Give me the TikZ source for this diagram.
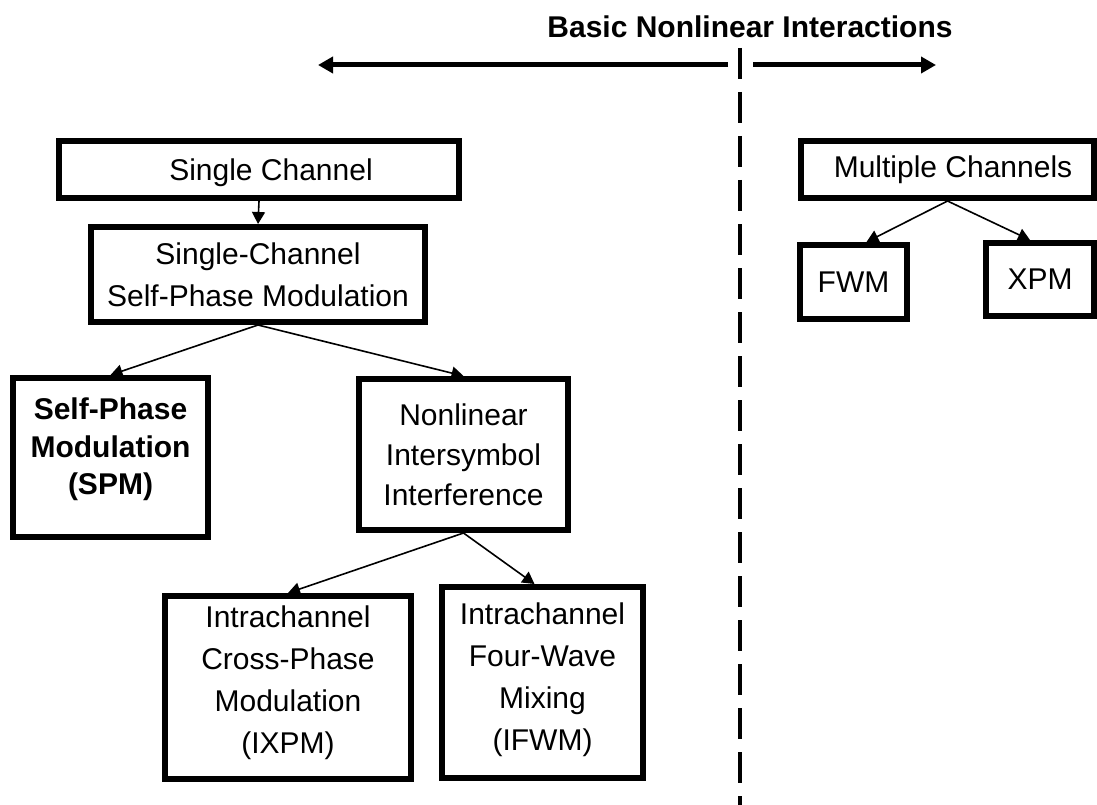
\documentclass[tikz,border=0pt]{standalone}
\usepackage{fontspec}
\setmainfont{Liberation Sans}
\usetikzlibrary{arrows.meta}

\begin{document}
\begin{tikzpicture}[x=1pt,y=-1pt,
	box/.style={draw,line width=6pt,outer sep=auto,inner sep=0pt,align=center,font=\fontsize{30}{42}\selectfont},
	link/.style={line width=1.6pt,-{Triangle[length=12pt,width=13pt]}},
	bigarrow/.style={line width=5pt,-{Triangle[length=15pt,width=16pt]}}]
			%%%%% START %%%%%
			
			\useasboundingbox (0,0) rectangle (1097,805);
			
			\node[font=\fontsize{30}{36}\selectfont\bfseries,anchor=base] (title) at (750,38) {Basic Nonlinear Interactions};
			
			\coordinate (lstart) at (728,65);
			\coordinate (lend) at (318,65);
			\coordinate (rstart) at (753,65);
			\coordinate (rend) at (936,65);
			\draw[bigarrow] (lstart) -- (lend);
			\draw[bigarrow] (rstart) -- (rend);
			
			\coordinate (splittop) at (740,48);
			\coordinate (splitbot) at (740,805);
			\draw[line width=4pt,dash pattern=on 31pt off 13pt] (splittop) -- (splitbot);
			
			\node[box,minimum width=400pt,minimum height=57pt,text depth=0pt] (single) at (259,169.5) {\hspace*{24pt}Single Channel};
			\node[box,minimum width=334pt,minimum height=95pt] (scspm) at (258,274.5) {Single-Channel\\Self-Phase Modulation};
			
			\node[box,font=\fontsize{30}{37.5}\selectfont\bfseries,minimum width=195pt,minimum height=159pt,text depth=22pt] (spm) at (110.5,457.5) {Self-Phase\\Modulation\\(SPM)};
			\node[box,font=\fontsize{30}{40}\selectfont,minimum width=209pt,minimum height=151pt] (nisi) at (463.5,454.5) {Nonlinear\\Intersymbol\\Interference};
			
			\node[box,minimum width=246pt,minimum height=183pt,text depth=16pt] (ixpm) at (288,687.5) {Intrachannel\\Cross-Phase\\Modulation\\(IXPM)};
			\node[box,minimum width=201pt,minimum height=191pt,text depth=12pt] (ifwm) at (542.5,682.5) {Intrachannel\\Four-Wave\\Mixing\\(IFWM)};
			
			\node[box,minimum width=293pt,minimum height=57pt] (multi) at (947.5,169.5) {\hspace*{11pt}Multiple Channels};
			\node[box,minimum width=107pt,minimum height=74pt] (fwm) at (853.5,282) {FWM};
			\node[box,minimum width=108pt,minimum height=73pt] (xpm) at (1040,279.5) {XPM};
			
			\draw[link] (single.south) -- (scspm.north);
			\draw[link] (scspm.south) -- (spm.north);
			\draw[link] (scspm.south) -- (nisi.north);
			\draw[link] (nisi.south) -- (ixpm.north);
			\draw[link] (nisi.south) -- ([xshift=-8pt]ifwm.north);
			\draw[link] (multi.south) -- ([xshift=13pt]fwm.north);
			\draw[link] (multi.south) -- ([xshift=-10pt]xpm.north);
			
			%%%%% END %%%%%
		\end{tikzpicture}
\end{document}
